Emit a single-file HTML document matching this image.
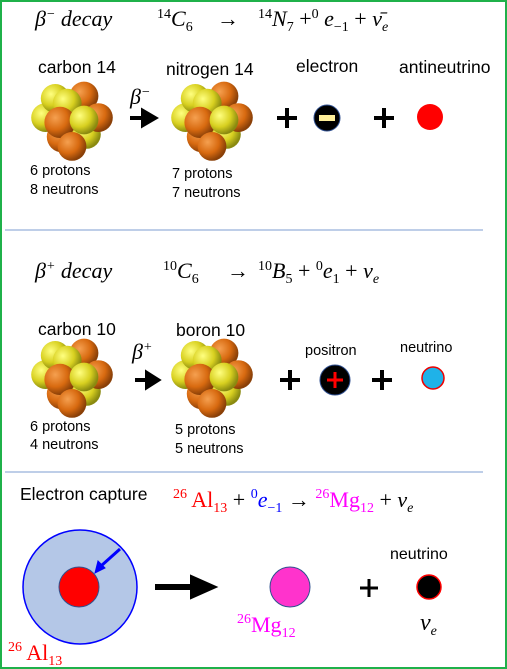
<!DOCTYPE html>
<html><head><meta charset="utf-8"><style>
html,body{margin:0;padding:0;background:#fff}
svg{display:block}
.t{font-family:"Liberation Sans",sans-serif;font-size:17.5px;fill:#000}
.s{font-family:"Liberation Sans",sans-serif;font-size:14.5px;fill:#000}
.m{font-family:"Liberation Serif",serif;font-size:22px;fill:#000}
</style></head><body>
<svg width="507" height="669" viewBox="0 0 507 669">
<defs>
<radialGradient id="gy" cx="35%" cy="35%" r="65%"><stop offset="0" stop-color="#ffff80"/><stop offset="0.6" stop-color="#d8d020"/><stop offset="1" stop-color="#8a8a10"/></radialGradient>
<radialGradient id="go" cx="35%" cy="35%" r="65%"><stop offset="0" stop-color="#f5a050"/><stop offset="0.6" stop-color="#d86a10"/><stop offset="1" stop-color="#8a4008"/></radialGradient>
<g id="nuc" transform="scale(1.2)">
<circle cx="-8" cy="14" r="13" fill="url(#go)"/>
<circle cx="12" cy="12" r="12" fill="url(#gy)"/>
<circle cx="-22" cy="-2" r="12" fill="url(#gy)"/>
<circle cx="-14" cy="-18" r="12" fill="url(#gy)"/>
<circle cx="10" cy="-20" r="12" fill="url(#go)"/>
<circle cx="22" cy="-2" r="12" fill="url(#go)"/>
<circle cx="-4" cy="-14" r="12" fill="url(#gy)"/>
<circle cx="-10" cy="2" r="13" fill="url(#go)"/>
<circle cx="10" cy="0" r="12" fill="url(#gy)"/>
<circle cx="0" cy="22" r="12" fill="url(#go)"/>
</g>
</defs>
<rect x="1" y="1" width="505" height="667" fill="none" stroke="#1fb14a" stroke-width="2"/>

<!-- section 1 -->
<g>
<text class="m" x="35" y="26" font-style="italic">β<tspan font-size="14" dy="-8">−</tspan><tspan dy="8"> decay</tspan></text>
<text class="m" x="157" y="26"><tspan font-size="14" dy="-8">14</tspan><tspan dy="8" font-style="italic">C</tspan><tspan font-size="14" dy="5">6</tspan><tspan dy="-5" x="217">→</tspan><tspan font-size="14" dy="-8" x="258">14</tspan><tspan dy="8" font-style="italic">N</tspan><tspan font-size="14" dy="5">7</tspan><tspan dy="-5"> +</tspan><tspan font-size="14" dy="-8">0</tspan><tspan dy="8" font-style="italic"> e</tspan><tspan font-size="14" dy="5">−1</tspan><tspan dy="-5"> + </tspan><tspan font-style="italic">ν̄</tspan><tspan font-size="14" dy="5" font-style="italic">e</tspan></text>
<text class="t" x="38" y="73">carbon 14</text>
<text class="t" x="166" y="75">nitrogen 14</text>
<text class="t" x="296" y="72">electron</text>
<text class="t" x="399" y="73">antineutrino</text>
<use href="#nuc" x="72" y="120"/>
<use href="#nuc" x="212" y="120"/>
<text class="m" x="130" y="104" font-style="italic">β<tspan font-size="14" dy="-8">−</tspan></text>
<path d="M130 118 H146 M143 111 L155 118 L143 125 Z" stroke="#000" stroke-width="4" fill="#000"/>
<path d="M277 118 H297 M287 108 V128" stroke="#000" stroke-width="4"/>
<circle cx="327" cy="118" r="13" fill="#000" stroke="#2f4f8f"/>
<rect x="319" y="115" width="16" height="6" fill="#ffef9a"/>
<path d="M374 118 H394 M384 108 V128" stroke="#000" stroke-width="4"/>
<circle cx="430" cy="117" r="13" fill="#f00"/>
<text class="s" x="30" y="175">6 protons</text>
<text class="s" x="30" y="194">8 neutrons</text>
<text class="s" x="172" y="178">7 protons</text>
<text class="s" x="172" y="197">7 neutrons</text>
</g>
<line x1="5" y1="230" x2="483" y2="230" stroke="#a9bde0" stroke-width="1.5"/>

<!-- section 2 -->
<g>
<text class="m" x="35" y="278" font-style="italic">β<tspan font-size="14" dy="-8">+</tspan><tspan dy="8"> decay</tspan></text>
<text class="m" x="163" y="278"><tspan font-size="14" dy="-8">10</tspan><tspan dy="8" font-style="italic">C</tspan><tspan font-size="14" dy="5">6</tspan><tspan dy="-5" x="227">→</tspan><tspan font-size="14" dy="-8" x="258">10</tspan><tspan dy="8" font-style="italic">B</tspan><tspan font-size="14" dy="5">5</tspan><tspan dy="-5"> + </tspan><tspan font-size="14" dy="-8">0</tspan><tspan dy="8" font-style="italic">e</tspan><tspan font-size="14" dy="5">1</tspan><tspan dy="-5"> + </tspan><tspan font-style="italic">ν</tspan><tspan font-size="14" dy="5" font-style="italic">e</tspan></text>
<text class="t" x="38" y="335">carbon 10</text>
<text class="t" x="176" y="336">boron 10</text>
<text class="s" x="305" y="355">positron</text>
<text class="s" x="400" y="352">neutrino</text>
<use href="#nuc" x="72" y="377"/>
<use href="#nuc" x="212" y="377"/>
<text class="m" x="132" y="359" font-style="italic">β<tspan font-size="14" dy="-8">+</tspan></text>
<path d="M135 380 H150 M147 373 L158 380 L147 387 Z" stroke="#000" stroke-width="4" fill="#000"/>
<path d="M280 380 H300 M290 370 V390" stroke="#000" stroke-width="4"/>
<circle cx="335" cy="380" r="15" fill="#000" stroke="#2f4f8f"/>
<path d="M327 380 H343 M335 372 V388" stroke="#f00" stroke-width="3"/>
<path d="M372 380 H392 M382 370 V390" stroke="#000" stroke-width="4"/>
<circle cx="433" cy="378" r="11" fill="#1fb2e8" stroke="#e00" stroke-width="1.5"/>
<text class="s" x="30" y="431">6 protons</text>
<text class="s" x="30" y="449">4 neutrons</text>
<text class="s" x="175" y="434">5 protons</text>
<text class="s" x="175" y="453">5 neutrons</text>
</g>
<line x1="5" y1="472" x2="483" y2="472" stroke="#a9bde0" stroke-width="1.5"/>

<!-- section 3 -->
<g>
<text class="t" x="20" y="500">Electron capture</text>
<text class="m" x="173" y="507" font-size="23"><tspan fill="#f00" font-size="14" dy="-9">26</tspan><tspan fill="#f00" dy="9"> Al</tspan><tspan fill="#f00" font-size="14" dy="5">13</tspan><tspan dy="-5"> + </tspan><tspan fill="#00f" font-size="14" dy="-9">0</tspan><tspan fill="#00f" dy="9" font-style="italic">e</tspan><tspan fill="#00f" font-size="14" dy="5">−1</tspan><tspan dy="-5"> → </tspan><tspan fill="#f0f" font-size="14" dy="-9">26</tspan><tspan fill="#f0f" dy="9">Mg</tspan><tspan fill="#f0f" font-size="14" dy="5">12</tspan><tspan dy="-5"> + </tspan><tspan font-style="italic">ν</tspan><tspan font-size="14" dy="5" font-style="italic">e</tspan></text>
<circle cx="80" cy="587" r="57" fill="#b4c7e7" stroke="#00f" stroke-width="1.5"/>
<circle cx="79" cy="587" r="20" fill="#f00" stroke="#2f528f"/>
<path d="M120 549 L101 566" stroke="#00f" stroke-width="3"/>
<path d="M95 573 L98 561 L105 568 Z" fill="#00f" stroke="#00f"/>
<path d="M155 587 H195 M193 579 L211 587 L193 595 Z" stroke="#000" stroke-width="6" fill="#000"/>
<circle cx="290" cy="587" r="20" fill="#ff33cc" stroke="#2f528f"/>
<text class="m" x="237" y="632" font-size="23" style="fill:#f0f"><tspan font-size="14" dy="-9">26</tspan><tspan dy="9">Mg</tspan><tspan font-size="14" dy="5">12</tspan></text>
<path d="M360 588 H378 M369 579 V597" stroke="#000" stroke-width="3"/>
<text class="t" x="390" y="559" font-size="16" style="font-size:16px">neutrino</text>
<circle cx="429" cy="587" r="12" fill="#000" stroke="#f00" stroke-width="1.5"/>
<text class="m" x="420" y="630" font-size="24" style="font-size:24px" font-style="italic">ν<tspan font-size="14" dy="5">e</tspan></text>
<text class="m" x="8" y="660" font-size="23" style="fill:#f00"><tspan font-size="14" dy="-9">26</tspan><tspan dy="9"> Al</tspan><tspan font-size="14" dy="5">13</tspan></text>
</g>
</svg>
</body></html>
